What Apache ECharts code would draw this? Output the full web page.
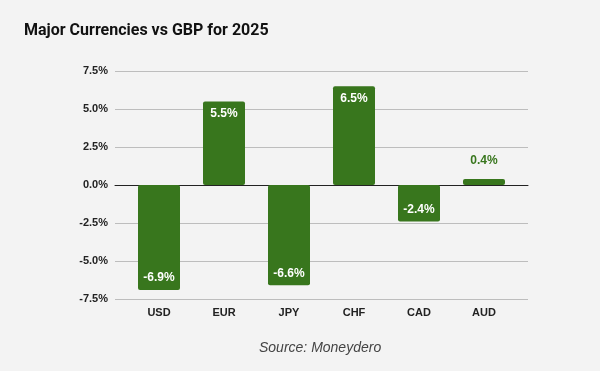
<!DOCTYPE html>
<html><head><meta charset="utf-8">
<script src="https://cdn.jsdelivr.net/npm/echarts@6/dist/echarts.min.js"></script>
<style>html,body{margin:0;padding:0;background:#f3f3f3}#c{width:600px;height:371px}</style>
</head><body><div id="c"></div>
<script>
const categories = ['USD','EUR','JPY','CHF','CAD','AUD'];
const values = [-6.9, 5.5, -6.6, 6.5, -2.4, 0.4];
const yTicks = { min: -7.5, max: 7.5, interval: 2.5 };
const title = 'Major Currencies vs GBP for 2025';
const source = 'Source: Moneydero';

const green = '#38761d';
const chart = echarts.init(document.getElementById('c'), null, {renderer:'canvas'});
const data = values.map(v => {
  let pos = v >= 0 ? 'insideTop' : 'insideBottom';
  let color = '#fff';
  if (Math.abs(v) < 1) { pos = 'top'; color = green; }
  return { value: v, label: { position: pos, color: color, distance: pos==='top' ? 12 : 6 } };
});
chart.setOption({
  backgroundColor: '#f3f3f3',
  animation: false,
  title: [
    { text: title, left: 24, top: 23, padding: 0, textStyle: { fontFamily: 'Roboto', fontWeight: 'bold', fontSize: 16, color: '#111' } },
    { text: source, left: 259, top: 341, textStyle: { fontFamily: 'Liberation Sans', fontStyle: 'italic', fontWeight: 'normal', fontSize: 14, color: '#444' }, padding: 0 }
  ],
  grid: [
    { left: 115, right: 72, top: 71, bottom: 72 },
    { left: 126.5, width: 390, top: 71, bottom: 72 }
  ],
  xAxis: [
    { gridIndex: 0, type: 'category', data: [''], axisLine: { show: true, onZero: true, lineStyle: { color: '#222', width: 1 } }, axisTick: { show: false }, axisLabel: { show: false } },
    { gridIndex: 1, type: 'category', data: categories, axisLine: { show: false }, axisTick: { show: false },
      axisLabel: { margin: 8, color: '#222', fontFamily: 'Liberation Sans', fontWeight: 'bold', fontSize: 11 } }
  ],
  yAxis: [
    { gridIndex: 0, type: 'value', min: yTicks.min, max: yTicks.max, interval: yTicks.interval,
      axisLine: { show: false }, axisTick: { show: false },
      splitLine: { lineStyle: { color: '#bdbdbd', width: 1 } },
      axisLabel: { margin: 7, color: '#222', fontFamily: 'Liberation Sans', fontWeight: 'bold', fontSize: 11, formatter: v => v.toFixed(1) + '%' } },
    { gridIndex: 1, type: 'value', min: yTicks.min, max: yTicks.max, interval: yTicks.interval, show: false, splitLine: { show: false } }
  ],
  series: [{
    type: 'bar', xAxisIndex: 1, yAxisIndex: 1, data: data, barWidth: 42,
    itemStyle: { color: green, borderRadius: 2 },
    label: { show: true, fontFamily: 'Liberation Sans', fontWeight: 'bold', fontSize: 12, formatter: p => p.value.toFixed(1) + '%' }
  }]
});
</script></body></html>
